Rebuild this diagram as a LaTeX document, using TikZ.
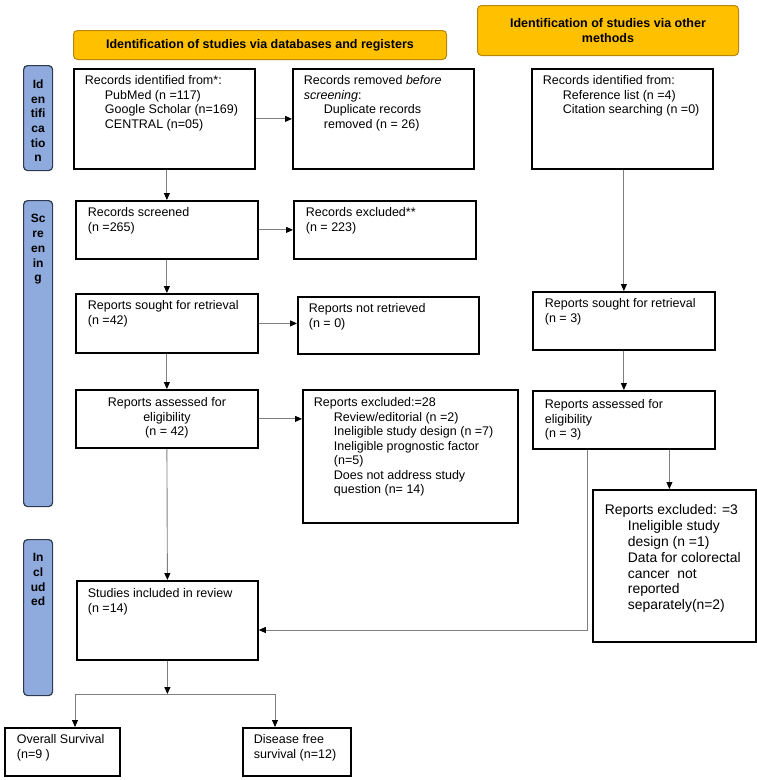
\documentclass[tikz,border=0pt]{standalone}
\usepackage{fontspec}
\setmainfont{Liberation Sans}
\usetikzlibrary{arrows.meta,calc}
\definecolor{hdr}{HTML}{FFC000}
\definecolor{hdrline}{HTML}{B8860B}
\definecolor{side}{HTML}{8FAADC}
\definecolor{sideline}{HTML}{2E3A4E}
\definecolor{connc}{HTML}{7F7F7F}
\newcommand\bxt[5]{\begin{minipage}[c][#2pt][t]{#1pt}\vspace*{#4pt}\raggedright\leftskip=#3pt\relax #5\par\end{minipage}}
\newcommand\ind{\hspace*{20pt}}
\tikzset{
  box/.style={draw=black, line width=1.8pt, inner sep=0pt, anchor=north west, font=\fontsize{12.5}{14.5}\selectfont},
  hdrbox/.style={draw=hdrline, fill=hdr, line width=1pt, rounded corners=4pt, inner sep=0pt, anchor=north west, align=center, font=\bfseries\fontsize{12.5}{14.5}\selectfont},
  sidebox/.style={draw=sideline, fill=side, line width=1.2pt, rounded corners=4pt, inner sep=0pt, anchor=north west, font=\bfseries\fontsize{12}{14.7}\selectfont},
  conn/.style={draw=connc, line width=0.9pt, -{Triangle[length=7pt,width=6pt,color=black]}},
  plain/.style={draw=connc, line width=0.9pt}
}
\begin{document}
\begin{tikzpicture}[x=1pt,y=-1pt]
\useasboundingbox (0,0) rectangle (756,780);
% headers
\node[hdrbox, minimum width=373pt, minimum height=29pt] (h1) at (73,30) {Identification of studies via databases and registers};
\node[hdrbox, minimum width=261pt, minimum height=50pt] (h2) at (477,5) {Identification of studies via other\\methods};
% side bars
\node[sidebox] (sid) at (23,65) {\bxt{29}{105}{0}{14}{\centering Id\\en\\tifi\\ca\\tio\\n}};
\node[sidebox] (sscr) at (23,200) {\bxt{29}{306}{0}{14}{\centering Sc\\re\\en\\in\\g}};
\node[sidebox] (sinc) at (23,539) {\bxt{29}{156}{0}{14}{\centering In\\cl\\ud\\ed}};
% boxes
\node[box] (rid) at (73,68) {\bxt{181}{100}{11}{7}{Records identified from*:\\\ind PubMed (n =117)\\\ind Google Scholar (n=169)\\\ind CENTRAL (n=05)}};
\node[box] (rem) at (292,68) {\bxt{181}{100}{11}{7}{Records removed \textit{before screening}:\\\ind Duplicate records\\\ind removed (n = 26)}};
\node[box] (orid) at (531,68) {\bxt{181}{100}{11}{7}{Records identified from:\\\ind Reference list (n =4)\\\ind Citation searching (n =0)}};
\node[box] (scr) at (75,200) {\bxt{182}{58}{12}{7}{Records screened\\(n =265)}};
\node[box] (exc) at (293,200) {\bxt{182}{58}{12}{7}{Records excluded**\\(n = 223)}};
\node[box] (sou) at (75,293) {\bxt{182}{59}{12}{7}{Reports sought for retrieval\\(n =42)}};
\node[box] (nret) at (297,296) {\bxt{181}{57}{11}{7}{Reports not retrieved\\(n = 0)}};
\node[box] (ass) at (75,389) {\bxt{182}{58}{0}{8}{\centering Reports assessed for\\eligibility\\(n = 42)}};
\node[box] (exc28) at (302,389) {\bxt{215}{133}{11}{8}{Reports excluded:=28\\\ind Review/editorial (n =2)\\\ind Ineligible study design (n =7)\\\ind Ineligible prognostic factor\\\ind (n=5)\\\ind Does not address study\\\ind question (n= 14)}};
\node[box] (osou) at (532,291) {\bxt{182}{58}{12}{7}{Reports sought for retrieval\\(n = 3)}};
\node[box] (oass) at (532,390) {\bxt{182}{58}{12}{9}{Reports assessed for\\eligibility\\(n = 3)}};
\node[box, font=\fontsize{13.9}{15.8}\selectfont] (exc3) at (592,489) {\bxt{163}{152}{12}{15}{Reports excluded: =3\\\hspace*{23pt}Ineligible study\\\hspace*{23pt}design (n =1)\\\hspace*{23pt}Data for colorectal\\\hspace*{23pt}cancer\ \ not\\\hspace*{23pt}reported\\\hspace*{23pt}separately(n=2)}};
\node[box] (si) at (76,580) {\bxt{181}{79}{11}{8}{Studies included in review\\(n =14)}};
\node[box] (os) at (4,727) {\bxt{115}{48}{12}{7}{Overall Survival\\(n=9 )}};
\node[box] (df) at (242,727) {\bxt{108}{48}{11}{7}{Disease free\\survival (n=12)}};
% connectors
\draw[conn] (rid.east) -- (rid.east -| rem.west);
\draw[conn] (scr.north |- rid.south) -- (scr.north);
\draw[conn] (scr.east) -- (scr.east -| exc.west);
\draw[conn] (scr.south) -- (sou.north);
\draw[conn] (sou.east) -- (sou.east -| nret.west);
\draw[conn] (sou.south) -- (ass.north);
\draw[conn] (ass.east) -- (ass.east -| exc28.west);
\draw[conn] (ass.south) -- (si.north);
\draw[conn] (osou.north |- orid.south) -- (osou.north);
\draw[conn] (osou.south) -- (oass.north);
\coordinate (jn) at (587,630);
\draw[conn] (oass.south -| jn) -- (jn) -- (jn -| si.east);
\coordinate (e3t) at ($(exc3.north)+(-5,0)$);
\draw[conn] (oass.south -| e3t) -- (e3t);
\coordinate (hl) at (75,694);
\coordinate (hr) at (275,694);
\draw[conn] (si.south) -- (si.south |- hl);
\draw[plain] (hl) -- (hr);
\draw[conn] (hl) -- (hl |- os.north);
\draw[conn] (hr) -- (hr |- df.north);
\end{tikzpicture}
\end{document}
